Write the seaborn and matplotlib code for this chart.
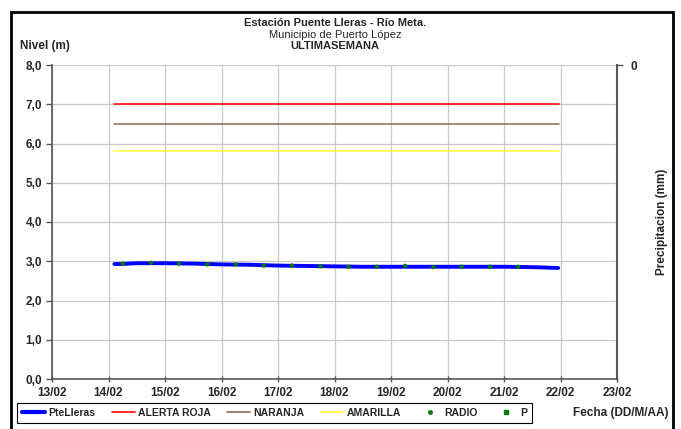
import pandas as pd
import matplotlib.pyplot as plt
import matplotlib.dates as mdates
from matplotlib.lines import Line2D
from matplotlib.patches import Rectangle
from matplotlib.ticker import FuncFormatter
import seaborn as sns

# nivel (m) PteLleras
nivel_fechas = ['2014-02-14 02:30', '2014-02-14 05:30', '2014-02-14 06:30', '2014-02-14 12:00',
                '2014-02-15 00:00', '2014-02-15 12:00', '2014-02-16 00:00', '2014-02-16 12:00',
                '2014-02-17 00:00', '2014-02-17 12:00', '2014-02-18 00:00', '2014-02-18 12:00',
                '2014-02-19 00:00', '2014-02-19 12:00', '2014-02-20 00:00', '2014-02-20 12:00',
                '2014-02-20 18:00', '2014-02-20 19:00', '2014-02-21 00:00', '2014-02-21 12:00',
                '2014-02-21 23:00']
nivel_valores = [2.93, 2.93, None, 2.95, 2.95, 2.94, 2.92, 2.91, 2.89, 2.88, 2.87, 2.86,
                 2.86, 2.86, 2.86, 2.86, None, 2.86, 2.86, 2.85, 2.83]

# radio readings
radio_fechas = ['2014-02-14 06:00', '2014-02-14 18:00', '2014-02-15 06:00', '2014-02-15 18:00',
                '2014-02-16 06:00', '2014-02-16 18:00', '2014-02-17 06:00', '2014-02-17 18:00',
                '2014-02-18 06:00', '2014-02-18 18:00', '2014-02-19 06:00', '2014-02-19 18:00',
                '2014-02-20 06:00', '2014-02-20 18:00', '2014-02-21 06:00']
radio_valores = [2.94, 2.96, 2.94, 2.92, 2.92, 2.89, 2.89, 2.87, 2.86, 2.86, 2.88, 2.85,
                 2.86, 2.86, 2.86]

# alert thresholds (m)
umbral_inicio = '2014-02-14 02:30'
umbral_fin = '2014-02-21 23:30'
alerta_roja = 7.0
naranja = 6.5
amarilla = 5.8

nivel_ticks = [0, 1, 2, 3, 4, 5, 6, 7, 8]

df_nivel = pd.DataFrame({'Fecha': pd.to_datetime(nivel_fechas), 'Nivel': nivel_valores})
df_radio = pd.DataFrame({'Fecha': pd.to_datetime(radio_fechas), 'Nivel': radio_valores})
df_umbral = pd.DataFrame({
    'Fecha': pd.to_datetime([umbral_inicio, umbral_fin] * 3),
    'Nivel': [alerta_roja, alerta_roja, naranja, naranja, amarilla, amarilla],
    'Serie': ['ALERTA ROJA'] * 2 + ['NARANJA'] * 2 + ['AMARILLA'] * 2,
})

sns.set_theme(style="whitegrid")
plt.rcParams['font.family'] = ['Liberation Sans', 'DejaVu Sans']

fig = plt.figure(figsize=(6.81, 4.29), dpi=100)
ax = fig.add_axes([52 / 681, 1 - 379 / 429, 565 / 681, 314 / 429])

colores = {'ALERTA ROJA': '#ff0000', 'NARANJA': '#8c6a4a', 'AMARILLA': '#ffff33'}
sns.lineplot(data=df_umbral, x='Fecha', y='Nivel', hue='Serie', palette=colores,
             linewidth=1.1, legend=False, ax=ax)
sns.lineplot(data=df_nivel, x='Fecha', y='Nivel', color='#0000ff', linewidth=2.8,
             legend=False, ax=ax)
sns.scatterplot(data=df_radio, x='Fecha', y='Nivel', color='#007a00', s=10,
                edgecolor='none', zorder=5, ax=ax)

ax.set_xlim(pd.Timestamp('2014-02-13'), pd.Timestamp('2014-02-23'))
ax.set_ylim(0, 8)
ax.set_yticks(nivel_ticks)
ax.yaxis.set_major_formatter(FuncFormatter(lambda v, p: f'{v:.1f}'.replace('.', ',')))
ax.xaxis.set_major_locator(mdates.DayLocator())
ax.xaxis.set_major_formatter(mdates.DateFormatter('%d/%m'))
ax.set_xlabel('')
ax.set_ylabel('')
ax.grid(True, color='#c8c8c8', linewidth=0.9)
ax.set_facecolor('white')
for s in ['left', 'bottom', 'right']:
    ax.spines[s].set_visible(True)
    ax.spines[s].set_color('#555555')
    ax.spines[s].set_linewidth(1.2)
ax.spines['top'].set_visible(False)
ax.tick_params(axis='y', which='major', left=True, length=4, width=1, color='#555555',
               labelsize=8.5, pad=3)
ax.tick_params(axis='x', which='major', bottom=True, length=5, width=1, color='#555555',
               direction='inout', labelsize=8.5, pad=3)
for t in ax.get_xticklabels() + ax.get_yticklabels():
    t.set_fontweight('bold')

ax2 = ax.twinx()
ax2.set_ylim(1, 0)
ax2.set_yticks([0])
ax2.set_yticklabels(['0'], fontweight='bold', fontsize=8.5)
ax2.tick_params(axis='y', right=True, length=4, width=1, color='#555555', pad=6)
ax2.grid(False)
for s in ax2.spines.values():
    s.set_visible(False)
ax2.spines['right'].set_visible(True)
ax2.spines['right'].set_color('#555555')
ax2.spines['right'].set_linewidth(1.5)
ax2.set_ylabel('Precipitacion (mm)', fontweight='bold', fontsize=8.5, labelpad=13)

fig.text(0.492, 1 - 23 / 429, 'Estación Puente Lleras - Río Meta.', ha='center', va='center',
         fontsize=8, fontweight='bold')
fig.text(0.492, 1 - 35 / 429, 'Municipio de Puerto López', ha='center', va='center',
         fontsize=8)
fig.text(0.492, 1 - 46 / 429, 'ULTIMASEMANA', ha='center', va='center', fontsize=8,
         fontweight='bold')
fig.text(20 / 681, 1 - 46 / 429, 'Nivel (m)', ha='left', va='center', fontsize=8.5,
         fontweight='bold')
fig.text(621 / 681, 1 - 413 / 429, 'Fecha (DD/M/AA)', ha='center', va='center', fontsize=8.5,
         fontweight='bold')

handles = [
    Line2D([], [], color='#0000ff', linewidth=3),
    Line2D([], [], color=colores['ALERTA ROJA'], linewidth=1.2),
    Line2D([], [], color=colores['NARANJA'], linewidth=1.2),
    Line2D([], [], color=colores['AMARILLA'], linewidth=1.2),
    Line2D([], [], color='#007a00', marker='o', markersize=2.5, linestyle='none'),
    Line2D([], [], color='#007a00', marker='s', markersize=2.5, linestyle='none'),
]
labels = ['PteLleras', 'ALERTA ROJA', 'NARANJA', 'AMARILLA', 'RADIO', 'P']
leg = fig.legend(handles, labels, ncol=6, loc='center left',
                 bbox_to_anchor=(12 / 681, 1 - 413 / 429), frameon=True, fancybox=False,
                 edgecolor='black', framealpha=1, prop={'size': 7.5, 'weight': 'bold'},
                 handlelength=2.2, handletextpad=0.3, columnspacing=1.6,
                 borderpad=0.45)
leg.get_frame().set_linewidth(0.8)

fig.patches.append(Rectangle((11 / 681, -0.02), 662 / 681, 1 - 12 / 429 + 0.02,
                             transform=fig.transFigure, fill=False, edgecolor='black',
                             linewidth=2))

fig.savefig('out.png', dpi=100)
